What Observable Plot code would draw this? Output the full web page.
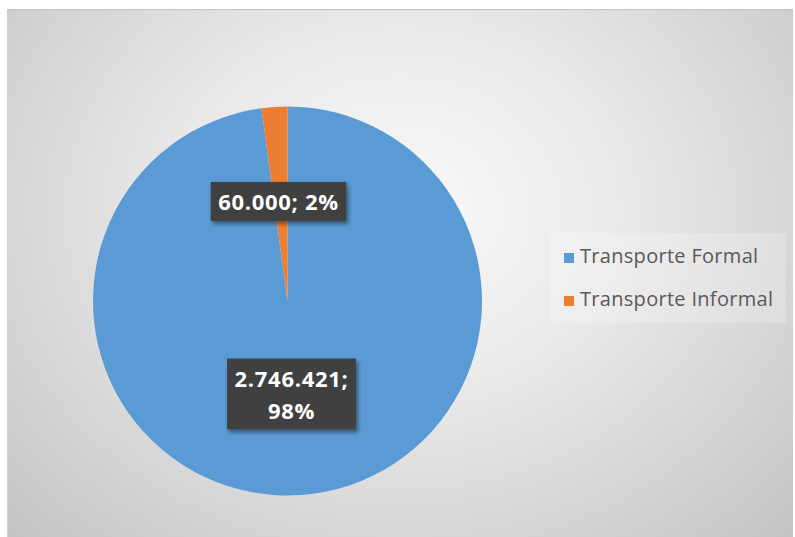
<!DOCTYPE html>
<html><head><meta charset="utf-8">
<script src="https://cdn.jsdelivr.net/npm/d3@7"></script>
<script src="https://cdn.jsdelivr.net/npm/@observablehq/plot@0.6"></script>
<style>
html,body{margin:0;padding:0;background:#fff;width:795px;height:537px;overflow:hidden;}
#chart{position:absolute;left:7px;top:9px;width:786px;height:528px;box-sizing:border-box;
  border-top:1px solid #c4c4c4;border-left:1px solid #cfcfcf;
  background:radial-gradient(ellipse farthest-corner at 50% 38%, #f9f9f9 0%, #e9e9e9 40%, #c4c4c4 100%);}
#chart svg{position:absolute;left:0;top:0;background:transparent;}
#legend{position:absolute;left:542px;top:223px;width:236px;height:90px;background:rgba(255,255,255,0.22);
  font-family:"Open Sans",sans-serif;font-size:20px;letter-spacing:0.3px;color:#595959;}
.item{position:absolute;left:14px;height:26px;line-height:26px;white-space:nowrap;}
.sw{display:inline-block;width:10px;height:10px;margin-right:6px;vertical-align:0px;}
g.lbl text{letter-spacing:0.7px;}
</style></head>
<body>
<div id="chart"><div id="legend"></div></div>
<script>
const categories = ["Transporte Formal", "Transporte Informal"];
const values = [2746421, 60000];
const colors = ["#5B9BD5", "#ED7D31"];

const total = d3.sum(values);
const fmt = d3.formatLocale({decimal: ",", thousands: ".", grouping: [3], currency: ["", ""]}).format(",d");
const rows = categories.map((c, i) => ({category: c, value: values[i]}));
const arcs = d3.pie().sort(null).value(d => d.value)(rows);
const colorOf = d3.scaleOrdinal(categories, colors);

const labels = arcs.map(a => {
  const mid = (a.startAngle + a.endAngle) / 2;
  const pct = Math.round(a.data.value / total * 100) + "%";
  const txt = a.data.value >= 1e6 ? fmt(a.data.value) + ";\n" + pct : fmt(a.data.value) + "; " + pct;
  return {x: Math.sin(mid) * 0.5, y: Math.cos(mid) * 0.5, text: txt};
});

function slices(index, scales) {
  const cx = scales.x(0), cy = scales.y(0), r = scales.x(1) - scales.x(0);
  const arc = d3.arc().innerRadius(0).outerRadius(r);
  const g = d3.create("svg:g").attr("transform", `translate(${cx},${cy})`);
  g.selectAll("path").data(arcs).join("path")
    .attr("d", arc).attr("fill", d => colorOf(d.data.category));
  return g.node();
}

const plot = Plot.plot({
  width: 785, height: 527,
  marginLeft: 85, marginRight: 311, marginTop: 98, marginBottom: 43,
  x: {domain: [-1, 1], axis: null},
  y: {domain: [-1, 1], axis: null},
  style: {background: "transparent", overflow: "visible"},
  marks: [
    slices,
    Plot.text(labels, {x: "x", y: "y", text: "text", fill: "white", fontWeight: "bold",
      fontSize: 22, lineHeight: 1.45, fontFamily: "Open Sans", className: "lbl", dx: -3, dy: -5})
  ]
});
document.getElementById("chart").appendChild(plot);

// shadow filter + background boxes for labels
const ns = "http://www.w3.org/2000/svg";
const defs = document.createElementNS(ns, "defs");
defs.innerHTML = '<filter id="sh" x="-20%" y="-20%" width="140%" height="150%"><feDropShadow dx="2" dy="3" stdDeviation="2" flood-color="#000" flood-opacity="0.45"/></filter>';
plot.insertBefore(defs, plot.firstChild);
plot.querySelectorAll("g.lbl text").forEach(t => {
  const b = t.getBBox();
  const rect = document.createElementNS(ns, "rect");
  const px = 7.5, py = 4.5;
  rect.setAttribute("x", b.x - px); rect.setAttribute("y", b.y - py);
  rect.setAttribute("width", b.width + 2 * px); rect.setAttribute("height", b.height + 2 * py);
  rect.setAttribute("fill", "#404040");
  rect.setAttribute("filter", "url(#sh)");
  if (t.getAttribute("transform")) rect.setAttribute("transform", t.getAttribute("transform"));
  t.parentNode.insertBefore(rect, t);
});

// legend
const legend = document.getElementById("legend");
categories.forEach((c, i) => {
  const d = document.createElement("div");
  d.className = "item";
  d.style.top = (10 + i * 43) + "px";
  d.innerHTML = `<span class="sw" style="background:${colorOf(c)}"></span>${c}`;
  legend.appendChild(d);
});
</script>
</body></html>
